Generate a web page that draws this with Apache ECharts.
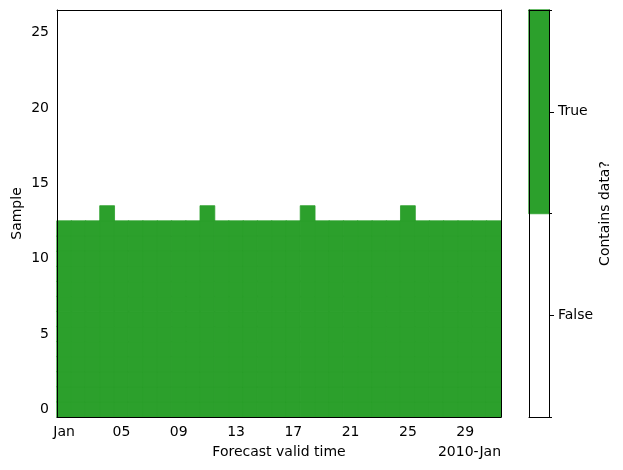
<!DOCTYPE html>
<html>
<head>
<meta charset="utf-8">
<script src="https://cdn.jsdelivr.net/npm/echarts@6/dist/echarts.min.js"></script>
<style>
  html, body { margin: 0; padding: 0; background: #fff; }
  #chart { width: 623px; height: 470px; }
</style>
</head>
<body>
<div id="chart"></div>
<script>
// forecast valid days, January 2010
const days = ['01', '02', '03', '04', '05', '06', '07', '08', '09', '10', '11', '12', '13', '14', '15', '16',
  '17', '18', '19', '20', '21', '22', '23', '24', '25', '26', '27', '28', '29', '30', '31']
const samples = ['0', '1', '2', '3', '4', '5', '6', '7', '8', '9', '10', '11', '12', '13', '14', '15', '16',
  '17', '18', '19', '20', '21', '22', '23', '24', '25', '26']
// how many samples (from 0 upward) contain data on each day
const samplesWithData = [13, 13, 13, 14, 13, 13, 13, 13, 13, 13, 14, 13, 13, 13, 13, 13,
  13, 14, 13, 13, 13, 13, 13, 13, 14, 13, 13, 13, 13, 13, 13]
const xTickDays = ['01', '05', '09', '13', '17', '21', '25', '29']
const xTickLabels = ['Jan', '05', '09', '13', '17', '21', '25', '29']
const yTickLabels = ['0', '5', '10', '15', '20', '25']
const colorbarLabels = ['False', 'True']

const green = '#2ca02c'
const font = 'DejaVu Sans'

// only "True" cells are drawn, "False" stays white background
let cells = []
days.forEach((d, i) => {
  samples.forEach((s, j) => {
    if (j < samplesWithData[i]) cells.push([i, j, 1])
  })
})
let colorbarCells = colorbarLabels.map((c, j) => [0, j, j]).filter((c) => c[2] === 1)

const cellStyle = { color: green, borderColor: green, borderWidth: 0.8, borderJoin: 'miter' }

// axes sit on their own layer so the spines stay above the cells
const lineOnly = {
  zlevel: 1,
  axisLine: { show: true, lineStyle: { color: '#000', width: 1 } },
  axisTick: { show: false },
  axisLabel: { show: false },
  splitLine: { show: false },
}

let myChart = echarts.init(document.getElementById('chart'))
myChart.setOption({
  animation: false,
  textStyle: { fontFamily: font },
  title: {
    text: '2010-Jan',
    right: 122,
    top: 445,
    padding: 0,
    textStyle: { fontSize: 14, fontWeight: 'normal', color: '#000', fontFamily: font },
  },
  grid: [
    { left: 57, right: 122, top: 10, bottom: 53, containLabel: false, outerBoundsMode: 'none' },
    { left: 529, width: 20, top: 10, bottom: 53, containLabel: false, outerBoundsMode: 'none' },
  ],
  xAxis: [
    {
      type: 'category',
      gridIndex: 0,
      zlevel: 1,
      data: days,
      position: 'bottom',
      name: 'Forecast valid time',
      nameLocation: 'middle',
      nameGap: 28,
      nameMoveOverlap: false,
      nameTextStyle: { fontSize: 14, color: '#000', fontFamily: font },
      axisLine: { lineStyle: { color: '#000', width: 1 } },
      axisTick: {
        alignWithLabel: true,
        length: 5,
        interval: (i, v) => xTickDays.includes(v),
        lineStyle: { color: '#000' },
      },
      axisLabel: {
        interval: (i, v) => xTickDays.includes(v),
        margin: 8,
        fontSize: 14,
        color: '#000',
        formatter: (v) => xTickLabels[xTickDays.indexOf(v)],
      },
      splitLine: { show: false },
    },
    Object.assign({ type: 'category', gridIndex: 0, data: days, position: 'top' }, lineOnly),
    Object.assign({ type: 'category', gridIndex: 1, data: ['c'], position: 'bottom' }, lineOnly),
    Object.assign({ type: 'category', gridIndex: 1, data: ['c'], position: 'top' }, lineOnly),
  ],
  yAxis: [
    {
      type: 'category',
      gridIndex: 0,
      zlevel: 1,
      data: samples,
      position: 'left',
      name: 'Sample',
      nameLocation: 'middle',
      nameRotate: 90,
      nameGap: 33,
      nameMoveOverlap: false,
      nameTextStyle: { fontSize: 14, color: '#000', fontFamily: font },
      axisLine: { lineStyle: { color: '#000', width: 1 } },
      axisTick: {
        alignWithLabel: true,
        length: 5,
        interval: (i, v) => yTickLabels.includes(v),
        lineStyle: { color: '#000' },
      },
      axisLabel: {
        interval: (i, v) => yTickLabels.includes(v),
        margin: 8,
        fontSize: 14,
        color: '#000',
      },
      splitLine: { show: false },
    },
    Object.assign({ type: 'category', gridIndex: 0, data: samples, position: 'right' }, lineOnly),
    {
      type: 'category',
      gridIndex: 1,
      zlevel: 1,
      data: colorbarLabels,
      position: 'right',
      axisLine: { show: true, lineStyle: { color: '#000', width: 1 } },
      axisTick: { show: true, length: 3, lineStyle: { color: '#000' } },
      axisLabel: { show: false },
      splitLine: { show: false },
    },
    {
      type: 'category',
      gridIndex: 1,
      zlevel: 1,
      data: colorbarLabels,
      position: 'right',
      name: 'Contains data?',
      nameLocation: 'middle',
      nameRotate: 90,
      nameGap: 49,
      nameMoveOverlap: false,
      nameTextStyle: { fontSize: 14, color: '#000', fontFamily: font },
      axisLine: { show: false },
      axisTick: { show: true, alignWithLabel: true, length: 5, lineStyle: { color: '#000' } },
      axisLabel: { margin: 9, fontSize: 14, color: '#000' },
      splitLine: { show: false },
    },
    Object.assign({ type: 'category', gridIndex: 1, data: colorbarLabels, position: 'left' }, lineOnly),
  ],
  series: [
    {
      type: 'heatmap',
      progressive: 0,
      xAxisIndex: 0,
      yAxisIndex: 0,
      data: cells,
      itemStyle: cellStyle,
      emphasis: { disabled: true },
    },
    {
      type: 'heatmap',
      progressive: 0,
      xAxisIndex: 2,
      yAxisIndex: 2,
      data: colorbarCells,
      itemStyle: cellStyle,
      emphasis: { disabled: true },
    },
  ],
})
</script>
</body>
</html>
